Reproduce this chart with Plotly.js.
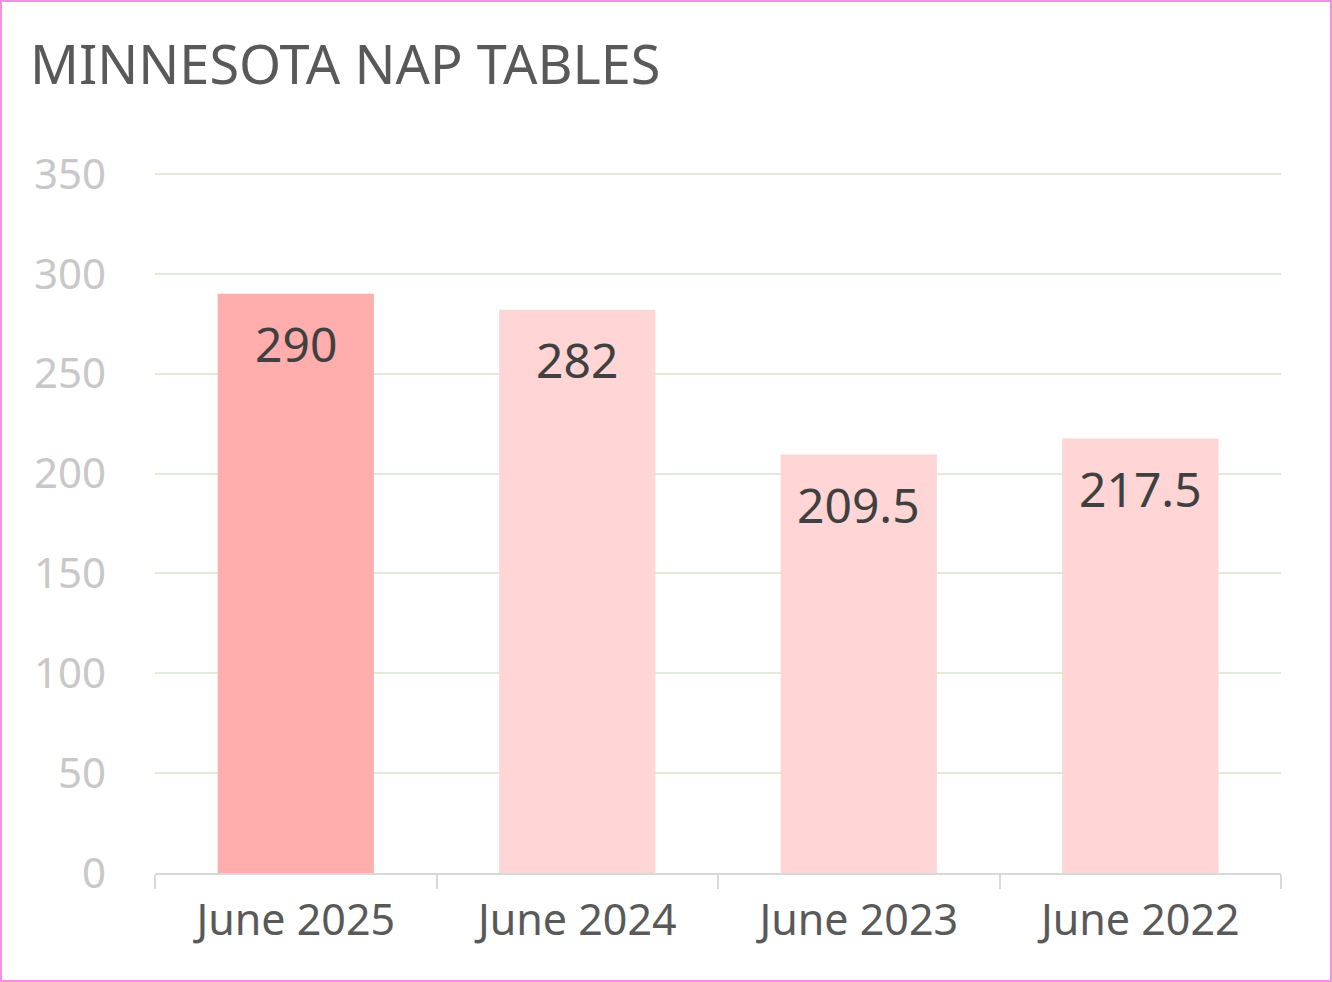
<!DOCTYPE html>
<html>
<head>
<meta charset="utf-8">
<script src="https://cdn.plot.ly/plotly-3.0.1.min.js"></script>
<style>
html,body{margin:0;padding:0;background:#fff;}
#chart{width:1328px;height:978px;border:2px solid #F48FE6;}
</style>
</head>
<body>
<div id="chart"></div>
<script>
const categories = ["June 2025", "June 2024", "June 2023", "June 2022"];
const values = [290, 282, 209.5, 217.5];
const labels = ["290", "282", "209.5", "217.5"];
const barColors = ["#FFADAD", "#FFD5D5", "#FFD5D5", "#FFD5D5"];
const yTickVals = [0, 50, 100, 150, 200, 250, 300, 350];
const yTickText = ["0", "50", "100", "150", "200", "250", "300", "350"];

const FONT = "Noto Sans, Liberation Sans, sans-serif";

const trace = {
  type: "bar",
  x: categories,
  y: values,
  marker: {color: barColors, line: {width: 0}},
  hoverinfo: "skip"
};

const annotations = categories.map((c, i) => ({
  x: c, y: values[i], xref: "x", yref: "y",
  text: labels[i], showarrow: false,
  yanchor: "middle", yshift: -50,
  font: {family: FONT, size: 48, color: "#404040"}
}));

const layout = {
  width: 1328, height: 978,
  paper_bgcolor: "#ffffff", plot_bgcolor: "#ffffff",
  margin: {l: 153, r: 49, t: 170, b: 107},
  showlegend: false,
  bargap: 0.445,
  title: {
    text: "MINNESOTA NAP TABLES",
    x: 0, xref: "container", xanchor: "left",
    y: 1, yref: "container", yanchor: "top",
    pad: {l: 28, t: 44},
    font: {family: FONT, size: 54, color: "#595959"}
  },
  xaxis: {
    type: "category",
    showgrid: false,
    showline: true, linecolor: "#D9D9D9", linewidth: 2,
    ticks: "outside", tickson: "boundaries", ticklen: 14, tickcolor: "#D9D9D9", tickwidth: 2,
    ticklabelstandoff: 8,
    tickfont: {family: FONT, size: 43, color: "#595959"},
    zeroline: false
  },
  yaxis: {
    range: [0, 351],
    tickvals: yTickVals, ticktext: yTickText,
    showgrid: true, gridcolor: "#E2EAD9", gridwidth: 2,
    showline: false, zeroline: false, ticks: "",
    ticklabelstandoff: 48,
    tickfont: {family: FONT, size: 42, color: "#C8C8C8"}
  },
  annotations: annotations
};

Plotly.newPlot("chart", [trace], layout, {displayModeBar: false, staticPlot: true});
</script>
</body>
</html>
